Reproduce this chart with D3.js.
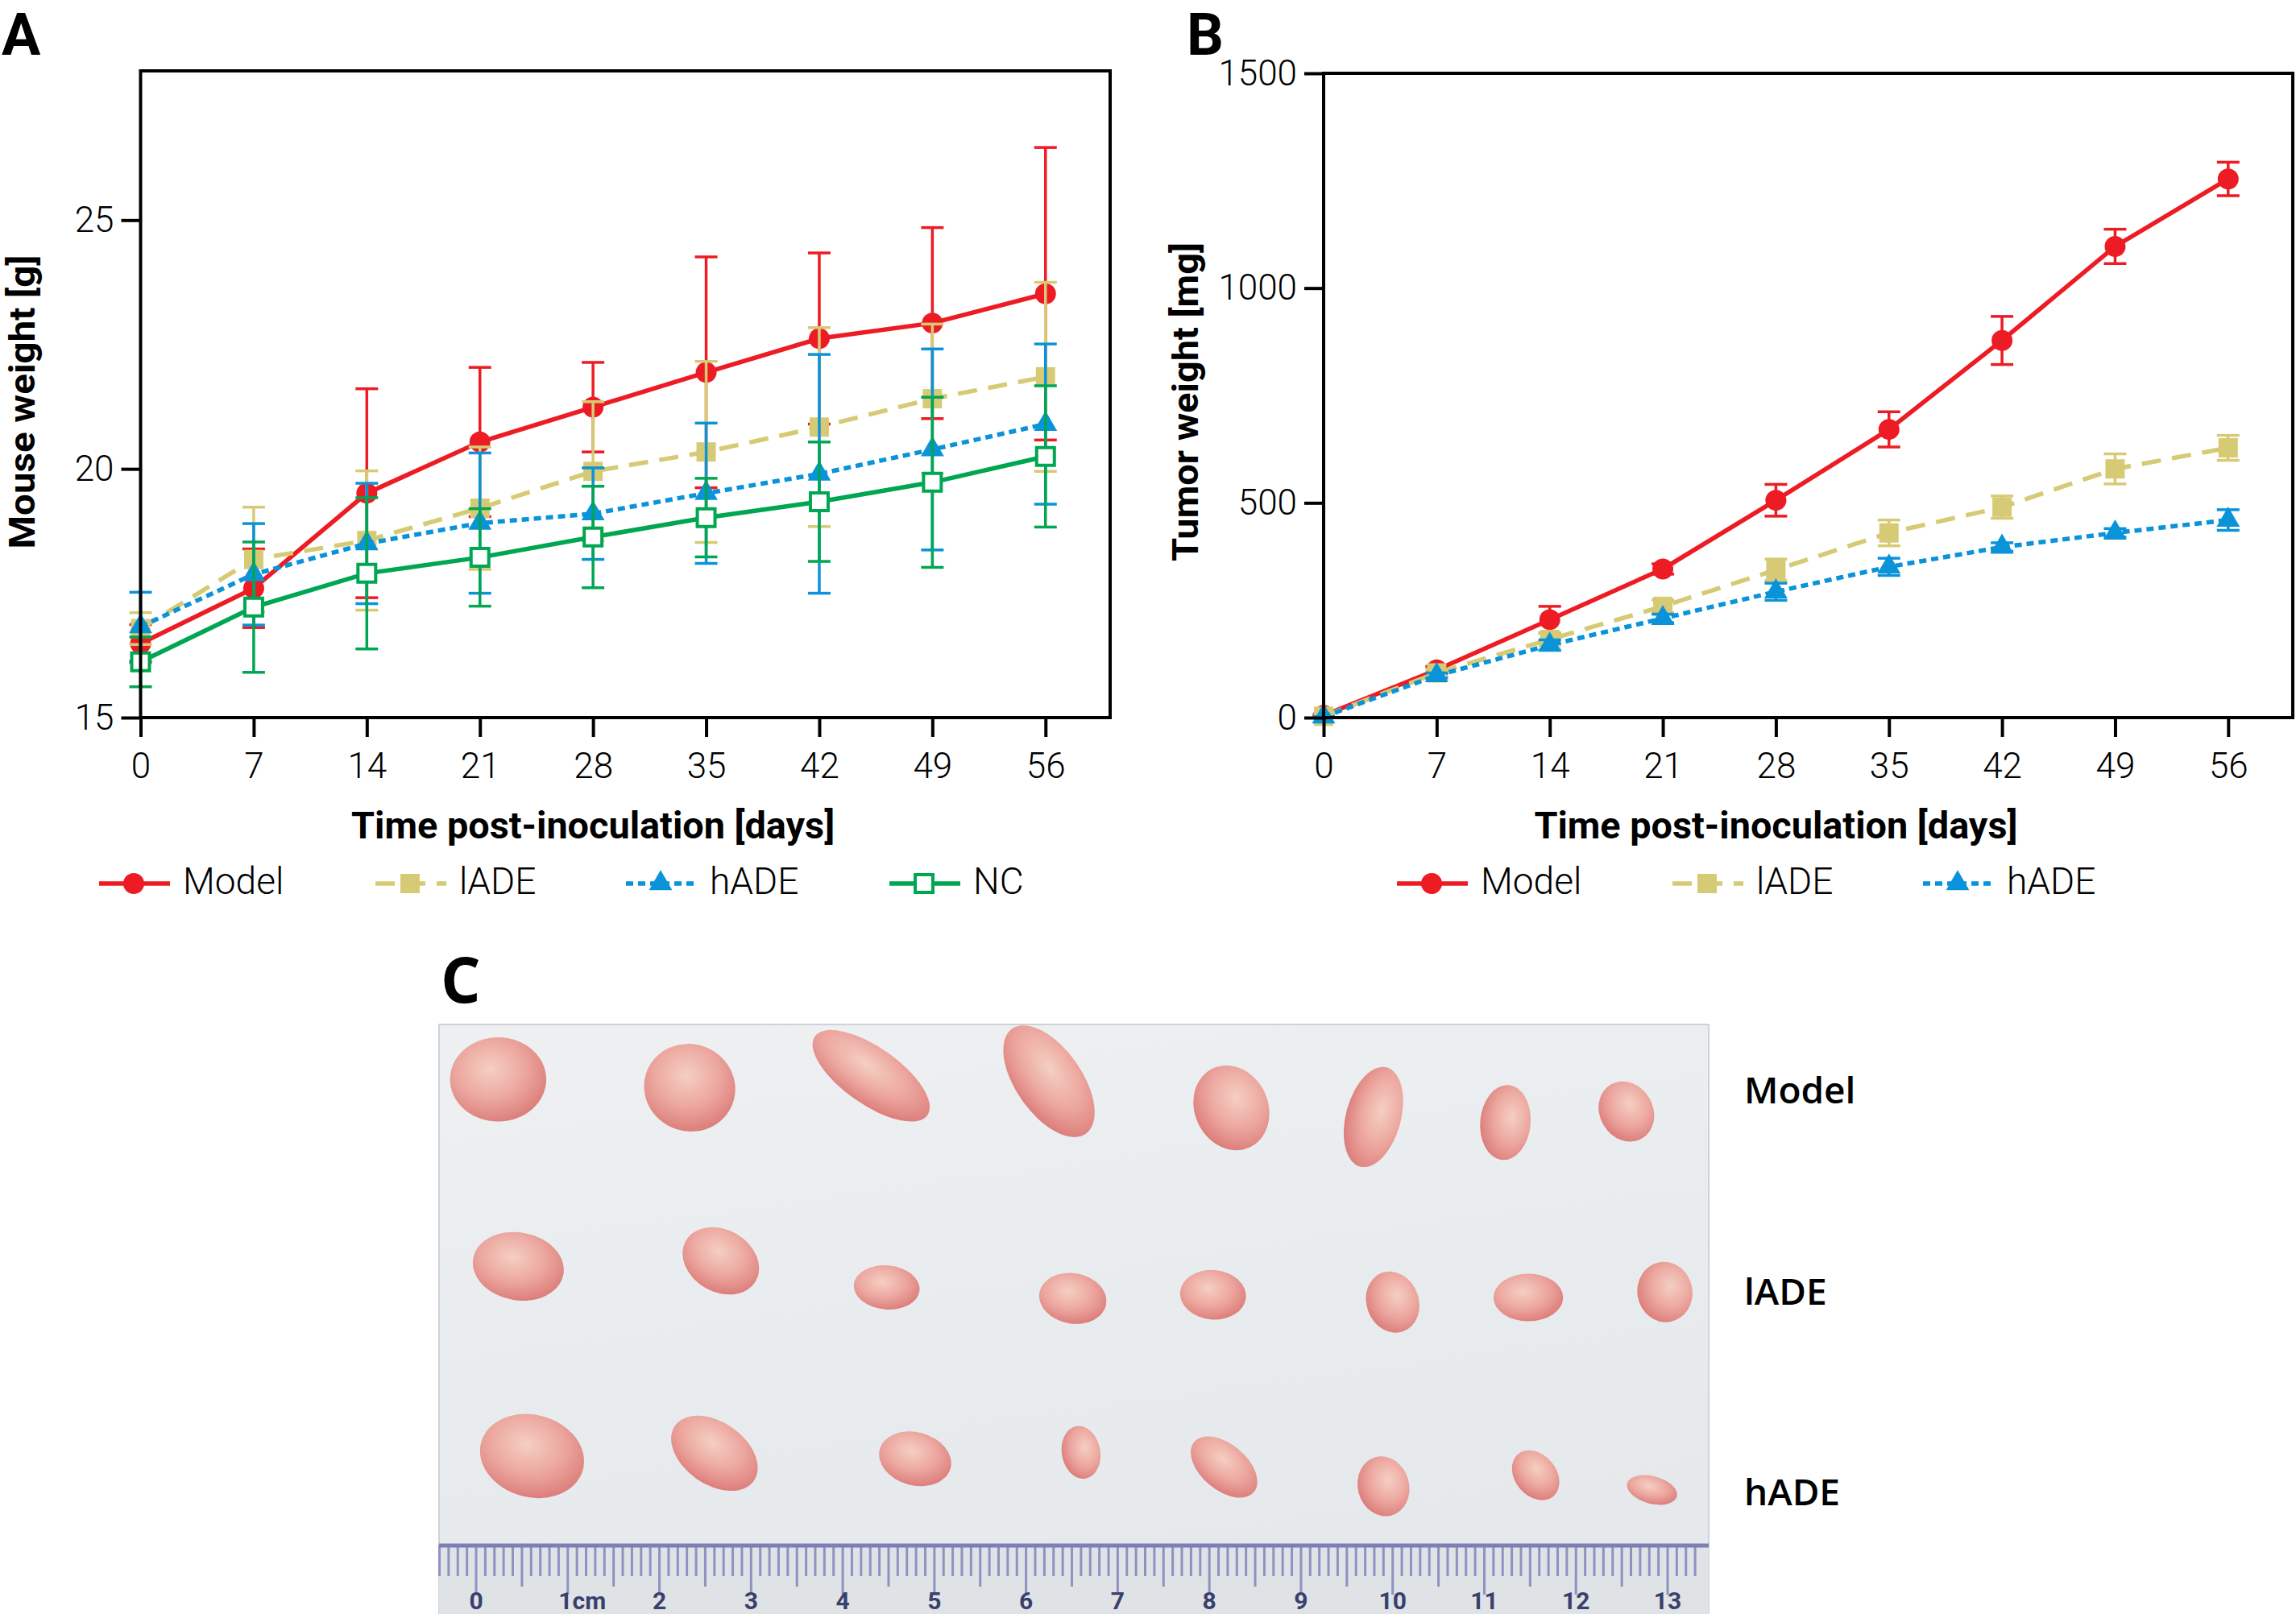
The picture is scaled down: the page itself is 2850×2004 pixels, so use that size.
<!DOCTYPE html>
<html>
<head>
<meta charset="utf-8">
<script src="https://cdn.jsdelivr.net/npm/d3@7"></script>
<style>
  body { margin: 0; background: #fff; }
  svg { display: block; }
</style>
</head>
<body>
<div id="chart"></div>
<script>
var width = 2850;
var height = 2004;

// ---- data ----
var days = [0, 7, 14, 21, 28, 35, 42, 49, 56];

// panel A: mouse weight [g], mean and SD
var modelWeight   = [16.49, 17.60, 19.51, 20.54, 21.24, 21.94, 22.62, 22.93, 23.52];
var modelWeightSd = [0.38, 0.79, 2.10, 1.50, 0.90, 2.32, 1.72, 1.92, 2.94];
var ladeWeight    = [16.79, 18.18, 18.56, 19.21, 19.95, 20.34, 20.84, 21.41, 21.85];
var ladeWeightSd  = [0.32, 1.05, 1.40, 1.23, 1.40, 1.82, 2.00, 1.50, 1.90];
var hadeWeight    = [16.83, 17.88, 18.50, 18.91, 19.10, 19.51, 19.90, 20.39, 20.90];
var hadeWeightSd  = [0.69, 1.02, 1.21, 1.41, 0.92, 1.41, 2.40, 2.02, 1.61];
var ncWeight      = [16.12, 17.22, 17.90, 18.22, 18.63, 19.02, 19.34, 19.73, 20.25];
var ncWeightSd    = [0.50, 1.31, 1.52, 0.98, 1.02, 0.79, 1.20, 1.71, 1.42];

// panel B: tumor weight [mg], mean and error
var modelTumor   = [5, 111, 228, 346, 506, 671, 878, 1097, 1254];
var modelTumorSe = [0, 8, 31, 12, 37, 41, 56, 40, 39];
var ladeTumor    = [3, 104, 182, 259, 344, 430, 490, 579, 628];
var ladeTumorSe  = [0, 8, 15, 15, 25, 30, 26, 35, 29];
var hadeTumor    = [2, 98, 169, 231, 293, 351, 397, 430, 460];
var hadeTumorSe  = [0, 6, 12, 10, 20, 20, 10, 10, 24];

var weightTicks = [15, 20, 25];
var tumorTicks = [0, 500, 1000, 1500];

// panel C: excised tumours, [x cm on ruler, y cm from photo top, length cm, width cm, angle]
var groupNames = ["Model", "lADE", "hADE"];
var modelTumors = [[0.24, 0.60, 1.05, 0.92, 0], [2.33, 0.69, 1.00, 0.95, 20], [4.31, 0.56, 1.50, 0.62, 35],
                   [6.25, 0.62, 1.40, 0.72, 55], [8.24, 0.91, 0.95, 0.80, 65], [9.79, 1.01, 1.12, 0.60, 105],
                   [11.23, 1.07, 0.82, 0.55, 95], [12.55, 0.95, 0.68, 0.58, 60]];
var ladeTumors  = [[0.46, 2.64, 1.00, 0.74, 10], [2.67, 2.58, 0.88, 0.68, 30], [4.48, 2.87, 0.72, 0.48, 5],
                   [6.51, 2.99, 0.74, 0.55, 10], [8.04, 2.95, 0.72, 0.54, 5], [10.00, 3.03, 0.68, 0.57, 70],
                   [11.48, 2.98, 0.76, 0.52, 0], [12.97, 2.92, 0.66, 0.60, 80]];
var hadeTumors  = [[0.61, 4.71, 1.15, 0.90, 15], [2.60, 4.68, 1.05, 0.68, 35], [4.79, 4.74, 0.80, 0.58, 15],
                   [6.60, 4.67, 0.58, 0.42, 80], [8.16, 4.83, 0.85, 0.50, 40], [9.90, 5.04, 0.66, 0.56, 75],
                   [11.56, 4.92, 0.60, 0.45, 50], [12.83, 5.08, 0.56, 0.30, 15]];
var rulerLabels = ["0", "1cm", "2", "3", "4", "5", "6", "7", "8", "9", "10", "11", "12", "13"];

// ---- styles ----
var tickFont = "Roboto, 'Open Sans', sans-serif";
var titleFont = "Roboto, 'Open Sans', sans-serif";
var labelFont = "'Open Sans', Roboto, sans-serif";

var styles = {
  Model: { color: "#ed1c24", dash: null, symbol: d3.symbolCircle, size: 531, fill: "#ed1c24" },
  lADE:  { color: "#d6cb74", dash: "24,14", symbol: d3.symbolSquare, size: 576, fill: "#d6cb74" },
  hADE:  { color: "#0a93d9", dash: "9,6", symbol: d3.symbolTriangle, size: 360, fill: "#0a93d9" },
  NC:    { color: "#00a651", dash: null, symbol: d3.symbolSquare, size: 484, fill: "#fff" }
};

var svg = d3.select("#chart").append("svg")
    .attr("width", width)
    .attr("height", height);
svg.append("rect").attr("width", width).attr("height", height).attr("fill", "#fff");

function zip(mean, err) {
  return days.map(function(d, i) { return { day: d, v: mean[i], e: err[i] }; });
}

function drawPanel(box, yDomain, yTicks, series, yTitle, yTitleX, yTitleLen, legendX) {
  var x = d3.scaleLinear().domain([0, 60]).range([box.left, box.right]);
  var y = d3.scaleLinear().domain(yDomain).range([box.bottom, box.top]);
  var g = svg.append("g");

  // series
  series.forEach(function(s) {
    var st = styles[s.name];
    var sg = g.append("g");
    var eb = sg.selectAll("g.eb").data(s.data).enter().append("g")
        .attr("stroke", st.color).attr("stroke-width", 3.5);
    eb.append("line")
        .attr("x1", function(d) { return x(d.day); }).attr("x2", function(d) { return x(d.day); })
        .attr("y1", function(d) { return y(d.v - d.e); }).attr("y2", function(d) { return y(d.v + d.e); });
    [-1, 1].forEach(function(sign) {
      eb.append("line")
          .attr("x1", function(d) { return x(d.day) - 14; }).attr("x2", function(d) { return x(d.day) + 14; })
          .attr("y1", function(d) { return y(d.v + sign * d.e); }).attr("y2", function(d) { return y(d.v + sign * d.e); });
    });
    var line = d3.line().x(function(d) { return x(d.day); }).y(function(d) { return y(d.v); });
    sg.append("path").datum(s.data)
        .attr("d", line)
        .attr("fill", "none")
        .attr("stroke", st.color)
        .attr("stroke-width", 5.5)
        .attr("stroke-dasharray", st.dash);
    sg.selectAll("path.mk").data(s.data).enter().append("path")
        .attr("transform", function(d) { return "translate(" + x(d.day) + "," + y(d.v) + ")"; })
        .attr("d", d3.symbol().type(st.symbol).size(st.size))
        .attr("fill", st.fill)
        .attr("stroke", s.name === "NC" ? st.color : "none")
        .attr("stroke-width", 4);
  });

  // box and axes
  g.append("rect")
      .attr("x", box.left).attr("y", box.top)
      .attr("width", box.right - box.left).attr("height", box.bottom - box.top)
      .attr("fill", "none").attr("stroke", "#000").attr("stroke-width", 4);

  var xa = g.append("g").attr("transform", "translate(0," + box.bottom + ")")
      .call(d3.axisBottom(x).tickValues(days).tickSize(24).tickPadding(20).tickSizeOuter(0));
  var ya = g.append("g").attr("transform", "translate(" + box.left + ",0)")
      .call(d3.axisLeft(y).tickValues(yTicks).tickFormat(d3.format("d"))
        .tickSize(24).tickPadding(9).tickSizeOuter(0));
  [xa, ya].forEach(function(a) {
    a.select(".domain").remove();
    a.selectAll("line").attr("stroke", "#000").attr("stroke-width", 4);
    a.attr("font-family", tickFont).attr("font-size", 44).attr("font-weight", 300);
    a.selectAll("text").attr("fill", "#000");
  });

  // axis titles
  g.append("text")
      .attr("x", (x(0) + x(56)) / 2).attr("y", 1041)
      .attr("text-anchor", "middle")
      .attr("font-family", titleFont).attr("font-weight", 700).attr("font-size", 46)
      .attr("textLength", 600).attr("lengthAdjust", "spacingAndGlyphs")
      .text("Time post-inoculation [days]");
  g.append("text")
      .attr("transform", "translate(" + yTitleX + "," + 499 + ") rotate(-90)")
      .attr("text-anchor", "middle")
      .attr("font-family", titleFont).attr("font-weight", 700).attr("font-size", 44)
      .attr("textLength", yTitleLen).attr("lengthAdjust", "spacingAndGlyphs")
      .text(yTitle);

  // legend
  var lg = g.append("g").attr("transform", "translate(0,1097)");
  series.forEach(function(s, i) {
    var st = styles[s.name];
    var lx = legendX[i];
    lg.append("line").attr("x1", lx).attr("x2", lx + 88).attr("y1", 0).attr("y2", 0)
        .attr("stroke", st.color).attr("stroke-width", 5.5).attr("stroke-dasharray", st.dash);
    lg.append("path").attr("transform", "translate(" + (lx + 43) + ",0)")
        .attr("d", d3.symbol().type(st.symbol).size(st.size))
        .attr("fill", st.fill)
        .attr("stroke", s.name === "NC" ? st.color : "none").attr("stroke-width", 4);
    lg.append("text").attr("x", lx + 104).attr("y", 13)
        .attr("font-family", tickFont).attr("font-weight", 300).attr("font-size", 46)
        .text(s.name);
  });
}

drawPanel({ left: 174.5, right: 1378, top: 88, bottom: 891 }, [15, 28], weightTicks,
  [{ name: "Model", data: zip(modelWeight, modelWeightSd) },
   { name: "lADE", data: zip(ladeWeight, ladeWeightSd) },
   { name: "hADE", data: zip(hadeWeight, hadeWeightSd) },
   { name: "NC", data: zip(ncWeight, ncWeightSd) }],
  "Mouse weight [g]", 43, 365, [123, 466, 777, 1104]);

drawPanel({ left: 1643, right: 2846, top: 91, bottom: 891 }, [0, 1500], tumorTicks,
  [{ name: "Model", data: zip(modelTumor, modelTumorSe) },
   { name: "lADE", data: zip(ladeTumor, ladeTumorSe) },
   { name: "hADE", data: zip(hadeTumor, hadeTumorSe) }],
  "Tumor weight [mg]", 1487, 396, [1734, 2076, 2387]);

// panel letters
[["A", 2, 68, 72, titleFont], ["B", 1473, 68, 72, titleFont], ["C", 547, 1245, 78, labelFont]].forEach(function(p) {
  svg.append("text").attr("x", p[1]).attr("y", p[2])
      .attr("font-family", p[4]).attr("font-weight", 700).attr("font-size", p[3])
      .text(p[0]);
});

// ---- panel C: photo of excised tumours, drawn ----
var photo = { left: 545, right: 2121, top: 1272, bottom: 2004 };
var cm = d3.scaleLinear().domain([0, 13]).range([591, 2070]);
var pxPerCm = (cm(13) - cm(0)) / 13;
var cmY = d3.scaleLinear().domain([0, 1]).range([photo.top, photo.top + pxPerCm]);

var defs = svg.append("defs");
var bg = defs.append("linearGradient").attr("id", "photoBg").attr("x1", 0).attr("y1", 0).attr("x2", 0.3).attr("y2", 1);
bg.append("stop").attr("offset", 0).attr("stop-color", "#eef0f2");
bg.append("stop").attr("offset", 1).attr("stop-color", "#e5e9eb");
var tg = defs.append("radialGradient").attr("id", "tumorFill").attr("cx", "42%").attr("cy", "38%").attr("r", "65%");
tg.append("stop").attr("offset", 0).attr("stop-color", "#f5cfc3");
tg.append("stop").attr("offset", 0.55).attr("stop-color", "#eca79f");
tg.append("stop").attr("offset", 1).attr("stop-color", "#dc7c7a");

var pc = svg.append("g");
pc.append("rect")
    .attr("x", photo.left).attr("y", photo.top)
    .attr("width", photo.right - photo.left).attr("height", photo.bottom - photo.top)
    .attr("fill", "url(#photoBg)").attr("stroke", "#cdd2d6").attr("stroke-width", 2);

[modelTumors, ladeTumors, hadeTumors].forEach(function(row) {
  pc.append("g").selectAll("ellipse").data(row).enter().append("ellipse")
      .attr("transform", function(d) {
        return "translate(" + cm(d[0]) + "," + cmY(d[1]) + ") rotate(" + d[4] + ")";
      })
      .attr("rx", function(d) { return d[2] / 2 * pxPerCm; })
      .attr("ry", function(d) { return d[3] / 2 * pxPerCm; })
      .attr("fill", "url(#tumorFill)");
});

// ruler
var rulerTop = 1919;
pc.append("rect").attr("x", photo.left).attr("y", rulerTop)
    .attr("width", photo.right - photo.left).attr("height", photo.bottom - rulerTop)
    .attr("fill", "#dfe3e6");
var mm = d3.range(-4, 134);
pc.append("g").selectAll("line").data(mm).enter().append("line")
    .attr("x1", function(d) { return cm(d / 10); }).attr("x2", function(d) { return cm(d / 10); })
    .attr("y1", rulerTop)
    .attr("y2", function(d) { return rulerTop + (d % 10 === 0 ? 61 : d % 5 === 0 ? 51 : 38); })
    .attr("stroke", "#8e92c2").attr("stroke-width", 3);
pc.append("line").attr("x1", photo.left).attr("x2", photo.right)
    .attr("y1", rulerTop).attr("y2", rulerTop)
    .attr("stroke", "#7b7fb6").attr("stroke-width", 5);
pc.append("g").selectAll("text").data(rulerLabels).enter().append("text")
    .attr("x", function(d, i) { return cm(i) + (i === 1 ? 18 : 0); })
    .attr("y", 1998)
    .attr("text-anchor", "middle")
    .attr("font-family", tickFont).attr("font-weight", 700).attr("font-size", 30)
    .attr("fill", "#3a3f6b")
    .text(function(d) { return d; });

// group labels
var rowBaselines = [1370, 1620, 1869];
svg.append("g").selectAll("text").data(groupNames).enter().append("text")
    .attr("x", 2165).attr("y", function(d, i) { return rowBaselines[i]; })
    .attr("font-family", labelFont).attr("font-weight", 600).attr("font-size", 46)
    .text(function(d) { return d; });
</script>
</body>
</html>
